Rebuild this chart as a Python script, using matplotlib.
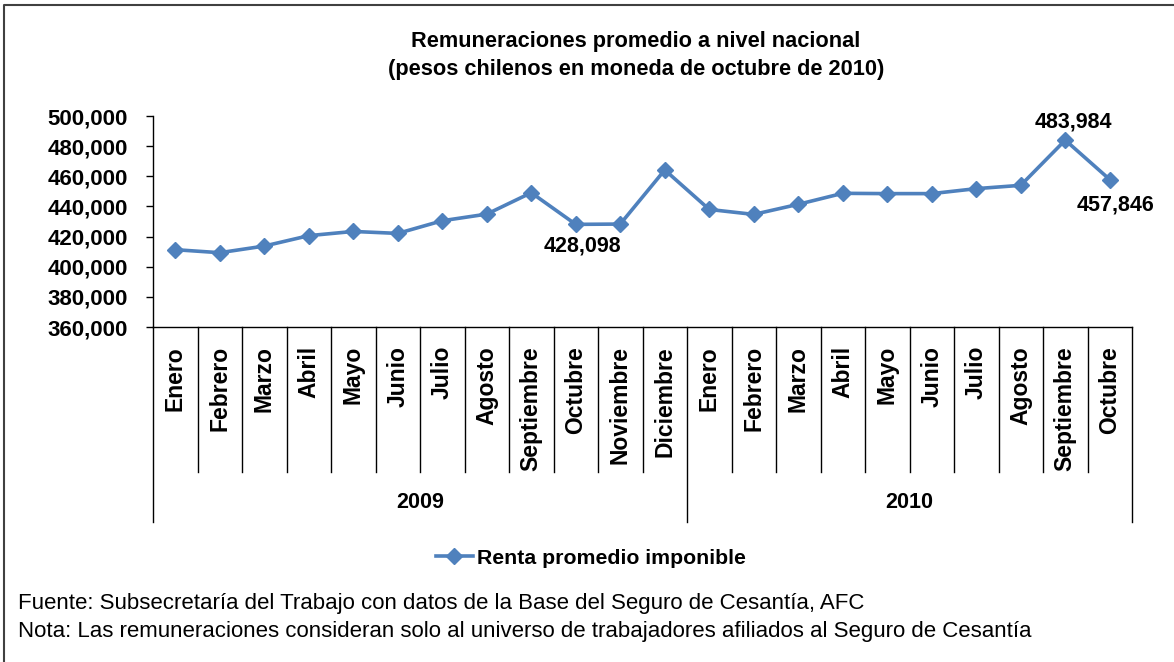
import matplotlib
matplotlib.use("Agg")
import matplotlib.pyplot as plt
import matplotlib.transforms as mtransforms
from matplotlib.lines import Line2D
from matplotlib.ticker import FuncFormatter

plt.rcParams["font.family"] = ["Liberation Sans", "DejaVu Sans"]

# data
months_2009 = ["Enero", "Febrero", "Marzo", "Abril", "Mayo", "Junio", "Julio",
               "Agosto", "Septiembre", "Octubre", "Noviembre", "Diciembre"]
months_2010 = ["Enero", "Febrero", "Marzo", "Abril", "Mayo", "Junio", "Julio",
               "Agosto", "Septiembre", "Octubre"]
years = ["2009", "2010"]
renta_2009 = [411300, 409300, 413700, 420600, 423400, 422100, 430500,
              434900, 449100, 428098, 428300, 464200]
renta_2010 = [438000, 434700, 441400, 448700, 448500, 448500, 451800,
              454000, 483984, 457846]
labelled = {9: 428098, 20: 483984, 21: 457846}

months = months_2009 + months_2010
renta = renta_2009 + renta_2010
x = list(range(len(months)))

W, H = 1174, 662
fig = plt.figure(figsize=(W / 100, H / 100), dpi=100)


def fy(py):
    return 1 - py / H


def fx(px):
    return px / W


ax = fig.add_axes([fx(153), fy(327), fx(1132) - fx(153), fy(116) - fy(327)])
blue = "#4F81BD"
ax.plot(x, renta, color=blue, lw=2.6, marker="D", ms=8, mec=blue, mfc=blue,
        label="Renta promedio imponible")
ax.set_xlim(-0.5, len(months) - 0.5)
ax.set_ylim(360000, 500000)
ax.set_yticks(range(360000, 500001, 20000))
ax.yaxis.set_major_formatter(FuncFormatter(lambda v, p: "{:,.0f}".format(v)))
ax.tick_params(axis="y", direction="out", length=5, width=1, pad=13,
               labelsize=16)
for lbl in ax.get_yticklabels():
    lbl.set_fontweight("bold")
ax.set_xticks([])
ax.spines["top"].set_visible(False)
ax.spines["right"].set_visible(False)
for s in ("left", "bottom"):
    ax.spines[s].set_linewidth(1)
    ax.spines[s].set_color("black")

# data labels
offsets = {9: (7, -22), 20: (8, 18), 21: (6, -25)}
for i, v in labelled.items():
    dx, dy = offsets[i]
    ax.annotate("{:,}".format(v), (i, v), xytext=(dx, dy),
                textcoords="offset pixels", ha="center", va="center",
                fontsize=15.5, fontweight="bold")

# category axis table
tr = mtransforms.blended_transform_factory(ax.transData, fig.transFigure)
n1 = len(months_2009)
for k in range(len(months) + 1):
    xe = k - 0.5
    bottom = 522 if k in (0, n1, len(months)) else 472
    fig.add_artist(Line2D([xe, xe], [fy(327), fy(bottom)], transform=tr,
                          color="black", lw=1))
for i, m in enumerate(months):
    fig.text(i, fy(346), m, transform=tr, rotation=90, ha="center",
             va="top", fontsize=16.5, fontweight="bold")
fig.text((n1 - 1) / 2, fy(503), years[0], transform=tr, ha="center",
         va="center", fontsize=15.5, fontweight="bold")
fig.text((n1 + len(months) - 1) / 2, fy(503), years[1], transform=tr,
         ha="center", va="center", fontsize=15.5, fontweight="bold")

# title
fig.text(fx(636), fy(41), "Remuneraciones promedio a nivel nacional",
         ha="center", va="center", fontsize=15.7, fontweight="bold")
fig.text(fx(636), fy(69), "(pesos chilenos en moneda de octubre de 2010)",
         ha="center", va="center", fontsize=15.7, fontweight="bold")

# legend
fig.legend(loc="center", bbox_to_anchor=(fx(591), fy(558)), frameon=False,
           prop={"size": 15.3, "weight": "bold"}, handlelength=1.75,
           handletextpad=0.2, borderpad=0)

# footer
fig.text(fx(18), fy(604), "Fuente: Subsecretaría del Trabajo con datos de la "
         "Base del Seguro de Cesantía, AFC", ha="left", va="center",
         fontsize=16)
fig.text(fx(18), fy(632), "Nota: Las remuneraciones consideran solo al "
         "universo de trabajadores afiliados al Seguro de Cesantía",
         ha="left", va="center", fontsize=16)

# outer frame (top and left visible in the reference)
fig.add_artist(Line2D([fx(3.5), fx(3.5), 1], [0, fy(5), fy(5)],
                      color="#404040", lw=1.5))

fig.savefig("out.png", dpi=100)
